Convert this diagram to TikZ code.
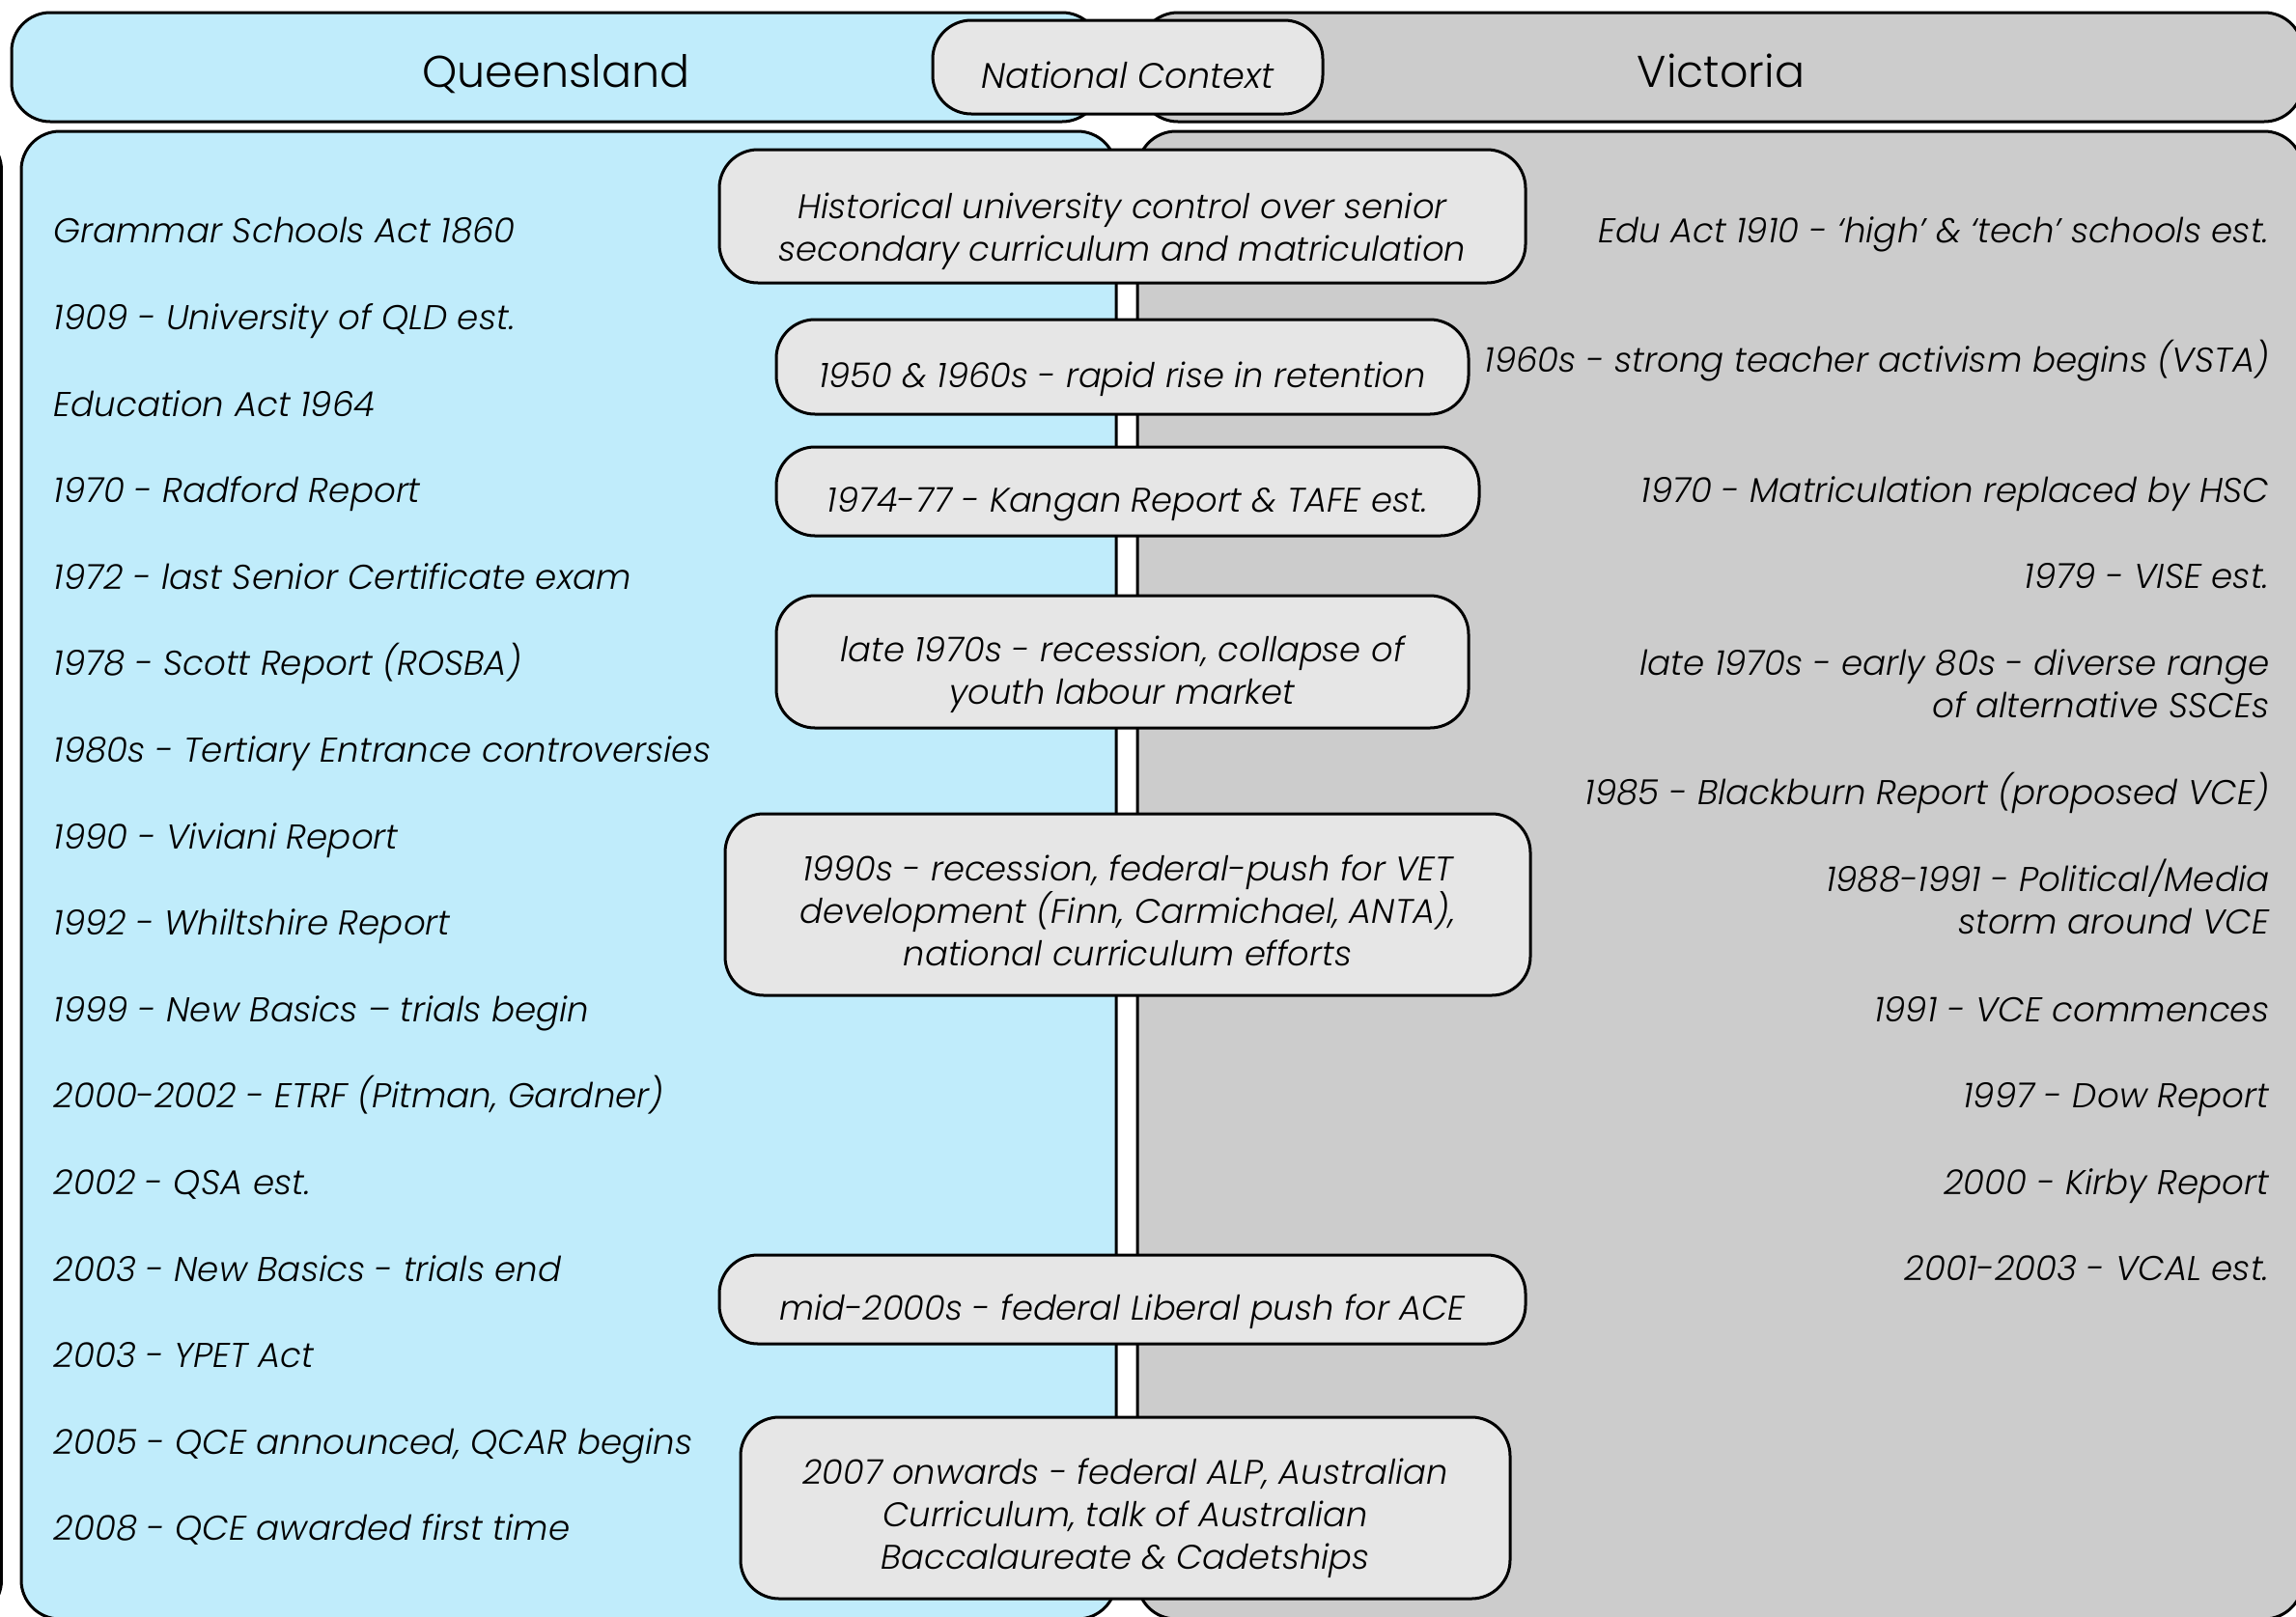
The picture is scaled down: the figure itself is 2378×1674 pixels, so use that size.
\documentclass[tikz,border=0pt]{standalone}
\usepackage{fontspec}
\setmainfont{Poppins}[UprightFont={* Light}, ItalicFont={* Light Italic}]
\usetikzlibrary{fit}
\definecolor{qblue}{RGB}{192,236,251}
\definecolor{vgrey}{RGB}{204,204,204}
\definecolor{bgrey}{RGB}{230,230,230}
\begin{document}
\begin{tikzpicture}[x=0.3pt,y=-0.3pt,
  panel/.style={draw, line width=0.9pt, rounded corners=12pt},
  hdr/.style={panel, inner sep=0pt},
  htext/.style={inner sep=0pt, text height=1.6ex, text depth=0.4ex, font=\fontsize{13.8}{16}\selectfont},
  cbox/.style={draw, fill=bgrey, line width=0.9pt, rounded corners=12pt, inner sep=0pt},
  ctext/.style={inner sep=0pt, align=center, font=\itshape\fontsize{10.6}{13.2}\selectfont},
  cline/.style={ctext, text height=1.6ex, text depth=0.4ex},
  qitem/.style={anchor=west, inner sep=0pt, text height=1.6ex, text depth=0.4ex, font=\itshape\fontsize{10.7}{13.2}\selectfont},
  vitem/.style={anchor=east, inner sep=0pt, align=right, text height=1.6ex, text depth=0.4ex, font=\itshape\fontsize{10.7}{13.2}\selectfont},
  vitem2/.style={anchor=east, inner sep=0pt, align=right, font=\itshape\fontsize{10.7}{13.2}\selectfont}]
\useasboundingbox (0,0) rectangle (2378,1674);
\begin{scope}
\clip (0,0) rectangle (2378,1674);
% stray edge of a shape at the far left
\draw[panel, fill=white] (-300,136) rectangle (1.5,1677);
% headers
\node[hdr, fill=qblue, fit={(12,13) (1140,126)}] (qhead) {};
\node[hdr, fill=vgrey, fit={(1180,13) (2385,126)}] (vhead) {};
% bodies
\draw[panel, fill=qblue] (22,136) rectangle (1156,1677);
\draw[panel, fill=vgrey] (1178,136) rectangle (2385,1677);
\end{scope}
\node[htext] (qheadt) at ([yshift=-2.9pt]qhead.center) {Queensland};
\node[htext] (vheadt) at ([yshift=-2.9pt]vhead.center) {Victoria};
% national context
\node[cbox, fit={(966,21) (1370,118)}] (nat) {};
\node[cline, font=\itshape\fontsize{11}{13.2}\selectfont] (natt) at ([yshift=-3.3pt]nat.center) {National Context};
% central boxes
\node[cbox, fit={(745,155) (1580,293)}] (c1) {};
\node[cbox, fit={(804,331) (1521,429)}] (c2) {};
\node[cbox, fit={(804,463) (1532,555)}] (c3) {};
\node[cbox, fit={(804,617) (1521,754)}] (c4) {};
\node[cbox, fit={(751,843) (1585,1031)}] (c5) {};
\node[cbox, fit={(745,1300) (1580,1392)}] (c6) {};
\node[cbox, fit={(767,1468) (1564,1656)}] (c7) {};
\node[ctext] (c1t) at ([yshift=-4.6pt]c1.center) {Historical university control over senior\\secondary curriculum and matriculation};
\node[cline] (c2t) at ([yshift=-3.3pt]c2.center) {1950 \& 1960s - rapid rise in retention};
\node[cline] (c3t) at ([yshift=-3.3pt]c3.center) {1974-77 - Kangan Report \& TAFE est.};
\node[ctext] (c4t) at ([yshift=-4pt]c4.center) {late 1970s - recession, collapse of\\youth labour market};
\node[ctext] (c5t) at ([yshift=-2pt]c5.center) {1990s - recession, federal-push for VET\\development (Finn, Carmichael, ANTA),\\national curriculum efforts};
\node[cline] (c6t) at ([yshift=-3.3pt]c6.center) {mid-2000s - federal Liberal push for ACE};
\node[ctext] (c7t) at ([yshift=-3.3pt]c7.center) {2007 onwards - federal ALP, Australian\\Curriculum, talk of Australian\\Baccalaureate \& Cadetships};
% Queensland items
\foreach \t [count=\i from 0] in {
  {Grammar Schools Act 1860},
  {1909 - University of QLD est.},
  {Education Act 1964},
  {1970 - Radford Report},
  {1972 - last Senior Certificate exam},
  {1978 - Scott Report (ROSBA)},
  {1980s - Tertiary Entrance controversies},
  {1990 - Viviani Report},
  {1992 - Whiltshire Report},
  {1999 - New Basics – trials begin},
  {2000-2002 - ETRF (Pitman, Gardner)},
  {2002 - QSA est.},
  {2003 - New Basics - trials end},
  {2003 - YPET Act},
  {2005 - QCE announced, QCAR begins},
  {2008 - QCE awarded first time}}
  \node[qitem] (q\i) at (55,{241+89.6*\i}) {\t};
% Victoria items
\node[vitem] (v1) at (2351,241) {Edu Act 1910 - ‘high’ \& ‘tech’ schools est.};
\node[vitem] (v2) at (2351,375) {1960s - strong teacher activism begins (VSTA)};
\node[vitem] (v3) at (2351,510) {1970 - Matriculation replaced by HSC};
\node[vitem] (v4) at (2351,599) {1979 - VISE est.};
\node[vitem2] (v5) at (2351,708) {late 1970s - early 80s - diverse range\\of alternative SSCEs};
\node[vitem] (v6) at (2351,823) {1985 - Blackburn Report (proposed VCE)};
\node[vitem2] (v7) at (2351,929) {1988-1991 - Political/Media\\storm around VCE};
\node[vitem] (v8) at (2351,1048) {1991 - VCE commences};
\node[vitem] (v9) at (2351,1137) {1997 - Dow Report};
\node[vitem] (v10) at (2351,1227) {2000 - Kirby Report};
\node[vitem] (v11) at (2351,1316) {2001-2003 - VCAL est.};
\end{tikzpicture}
\end{document}
